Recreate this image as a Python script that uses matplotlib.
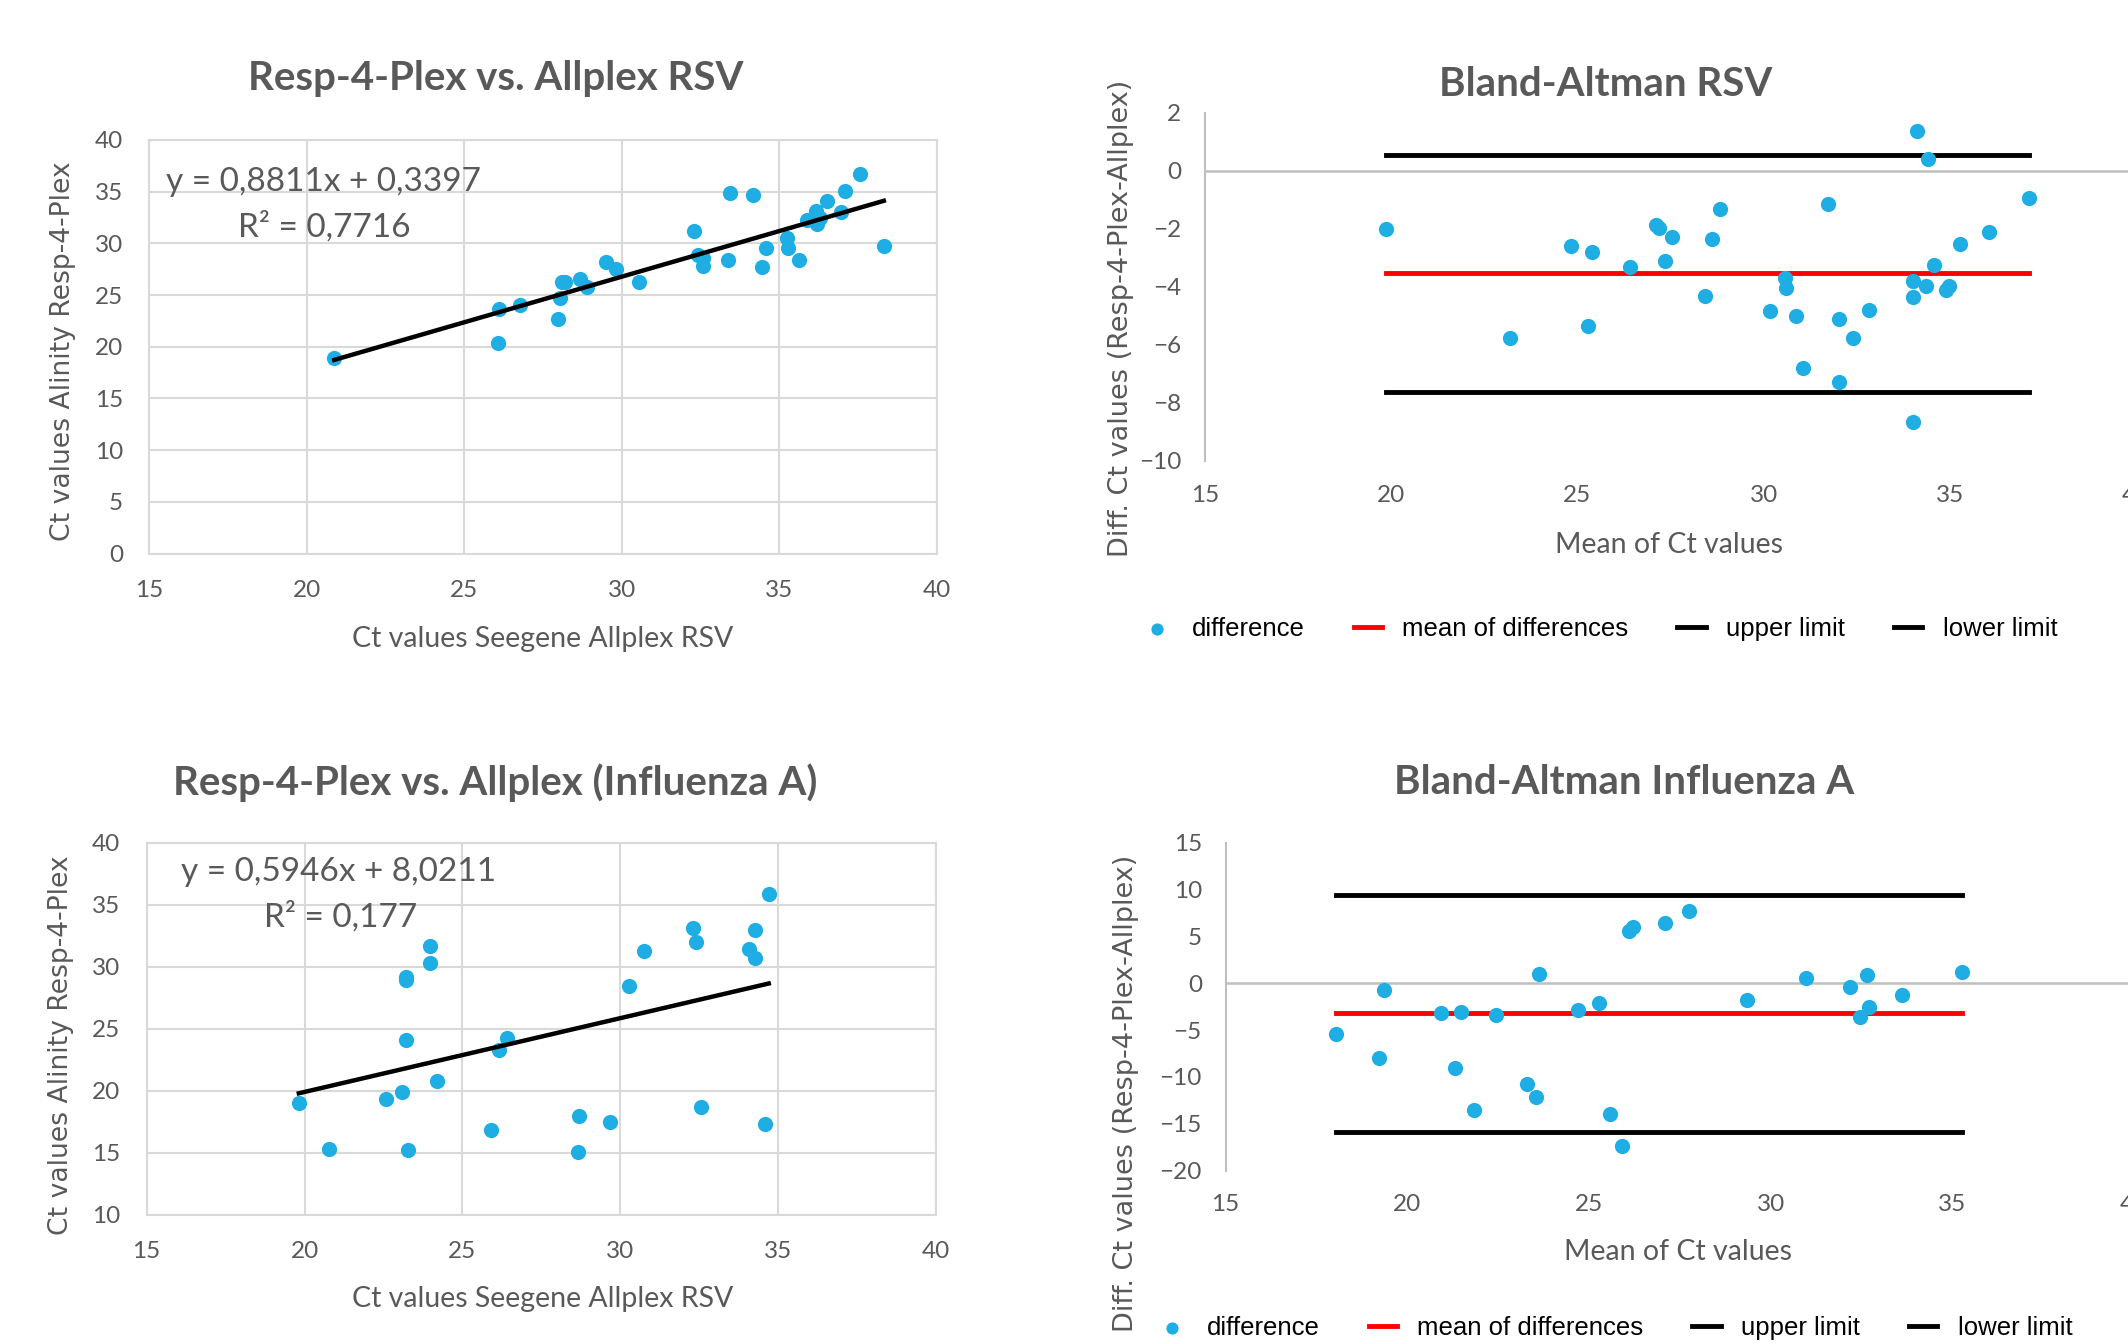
import numpy as np
import matplotlib
matplotlib.use("Agg")
import matplotlib.pyplot as plt

# --- data: RSV scatter (Allplex vs Resp-4-Plex) ---
rsv_x = [20.87, 26.07, 26.1, 26.78, 27.97, 28.04, 28.09, 28.2, 28.66, 28.9,
         29.51, 29.8, 30.55, 32.3, 32.42, 32.58, 32.58, 33.37, 33.42, 34.18,
         34.46, 34.58, 35.23, 35.27, 35.64, 35.89, 36.17, 36.19, 36.29, 36.53,
         36.95, 37.1, 37.57, 38.32]
rsv_y = [18.9, 20.33, 23.6, 24.07, 22.67, 24.73, 26.23, 26.3, 26.5, 25.77,
         28.23, 27.53, 26.27, 31.23, 28.83, 28.57, 27.77, 28.4, 34.83, 34.63,
         27.67, 29.53, 30.53, 29.57, 28.4, 32.27, 33.07, 31.9, 32.4, 34.1,
         33.0, 35.07, 36.7, 29.73]
rsv_slope, rsv_icpt = 0.8811, 0.3397
rsv_eq = "y = 0,8811x + 0,3397"
rsv_r2 = "R² = 0,7716"

# --- data: RSV Bland-Altman ---
ba_rsv_mean = [19.87, 23.19, 24.82, 25.28, 25.39, 26.4, 27.1, 27.2, 27.34, 27.53,
               28.42, 28.61, 28.84, 30.17, 30.56, 30.61, 30.86, 31.05, 31.73, 32.01,
               32.03, 32.4, 32.84, 34.01, 34.01, 34.01, 34.12, 34.35, 34.4, 34.56,
               34.89, 34.98, 35.27, 36.04, 37.12]
ba_rsv_diff = [-2.0, -5.75, -2.58, -5.36, -2.78, -3.32, -1.87, -1.96, -3.12, -2.27,
               -4.31, -2.35, -1.32, -4.82, -3.7, -4.03, -5.0, -6.81, -1.15, -7.29,
               -5.11, -5.75, -4.81, -3.78, -4.33, -8.64, 1.36, -3.96, 0.42, -3.24,
               -4.09, -3.96, -2.52, -2.12, -0.92]
ba_rsv_md, ba_rsv_up, ba_rsv_lo = -3.53, 0.55, -7.61

# --- data: Influenza A scatter ---
flu_x = [19.82, 20.79, 22.58, 23.09, 23.21, 23.21, 23.21, 23.29, 23.98, 23.98,
         24.18, 25.89, 26.15, 26.4, 28.68, 28.66, 29.67, 30.28, 30.74, 32.29,
         32.39, 32.54, 34.08, 34.28, 34.28, 34.58, 34.7]
flu_y = [19.03, 15.35, 19.38, 19.95, 29.2, 28.95, 24.09, 15.27, 31.64, 30.27,
         20.81, 16.83, 23.28, 24.25, 17.98, 15.11, 17.53, 28.44, 31.29, 33.09,
         31.99, 18.68, 31.4, 32.98, 30.73, 17.31, 35.89]
flu_slope, flu_icpt = 0.5946, 8.0211
flu_eq = "y = 0,5946x + 8,0211"
flu_r2 = "R² = 0,177"

# --- data: Influenza A Bland-Altman ---
ba_flu_mean = [18.03, 19.22, 19.37, 20.92, 21.32, 21.48, 21.84, 22.45, 23.29, 23.54,
               23.63, 24.69, 25.27, 25.58, 25.9, 26.1, 26.2, 27.09, 27.76, 29.35,
               30.97, 32.18, 32.47, 32.65, 32.71, 33.61, 35.25]
ba_flu_diff = [-5.41, -8.0, -0.71, -3.23, -9.06, -3.08, -13.57, -3.35, -10.75, -12.18,
               0.94, -2.82, -2.11, -13.91, -17.33, 5.6, 5.95, 6.39, 7.71, -1.8,
               0.56, -0.38, -3.57, 0.83, -2.56, -1.24, 1.24]
ba_flu_md, ba_flu_up, ba_flu_lo = -3.2, 9.45, -15.85

BLUE = '#1FAEE3'
GRAY = '#595959'
GRID = '#D9D9D9'
TICKFONT = 'Lato'

fig = plt.figure(figsize=(21.28, 13.44), dpi=100)


def style_ticks(ax, pad):
    ax.tick_params(length=0, labelsize=17.5, labelcolor=GRAY, pad=pad)
    for lab in ax.get_xticklabels() + ax.get_yticklabels():
        lab.set_family(TICKFONT)


def scatter_panel(rect, xs, ys, slope, icpt, eq, r2, ylim, title, title_pos,
                  eq_pos, r2_pos, xl_pos, yl_pos):
    ax = fig.add_axes(rect)
    ax.scatter(xs, ys, s=120, color=BLUE, zorder=3, linewidths=0)
    lx = np.array([min(xs), max(xs)])
    ax.plot(lx, slope * lx + icpt, color='black', lw=3.2, zorder=4)
    ax.set_xlim(15, 40)
    ax.set_ylim(*ylim)
    ax.set_xticks(range(15, 41, 5))
    ax.set_yticks(range(ylim[0], ylim[1] + 1, 5))
    ax.grid(True, color=GRID, lw=1.5)
    ax.set_axisbelow(True)
    for s in ax.spines.values():
        s.set_color(GRID)
        s.set_linewidth(1.5)
    style_ticks(ax, 19)
    ax.text(eq_pos[0], eq_pos[1], eq, transform=ax.transAxes, fontsize=24,
            family=TICKFONT, color=GRAY, va='center', ha='left')
    ax.text(r2_pos[0], r2_pos[1], r2, transform=ax.transAxes, fontsize=24,
            family=TICKFONT, color=GRAY, va='center', ha='left')
    ax.set_xlabel("Ct values Seegene Allplex RSV", fontsize=20.5, family=TICKFONT,
                  color=GRAY, va='center')
    ax.xaxis.set_label_coords(*xl_pos)
    ax.set_ylabel("Ct values Alinity Resp-4-Plex", fontsize=19.2,
                  family='DejaVu Sans', color=GRAY, va='center')
    ax.yaxis.set_label_coords(*yl_pos)
    fig.text(title_pos[0], title_pos[1], title, fontsize=29, fontweight='bold',
             family=TICKFONT, color=GRAY, ha='center', va='center')
    return ax


def ba_panel(rect, xs, ds, md, up, lo, ylim, step, title, title_pos, xl_pos,
             yl_pos, leg_pos):
    ax = fig.add_axes(rect)
    ax.axhline(0, color='#BFBFBF', lw=1.8, zorder=1)
    sc = ax.scatter(xs, ds, s=120, color=BLUE, zorder=3, linewidths=0,
                    label='difference')
    lx = [min(xs), max(xs)]
    l1, = ax.plot(lx, [md, md], color='#FF0000', lw=3.5, zorder=2,
                  label='mean of differences')
    l2, = ax.plot(lx, [up, up], color='black', lw=3.5, zorder=2,
                  label='upper limit')
    l3, = ax.plot(lx, [lo, lo], color='black', lw=3.5, zorder=2,
                  label='lower limit')
    ax.set_xlim(15, 40)
    ax.set_ylim(*ylim)
    ax.set_xticks(range(15, 41, 5))
    ax.set_yticks(range(ylim[0], ylim[1] + 1, step))
    for k in ['top', 'right', 'bottom']:
        ax.spines[k].set_visible(False)
    ax.spines['left'].set_color('#BFBFBF')
    ax.spines['left'].set_linewidth(1.5)
    style_ticks(ax, 17)
    ax.set_xlabel("Mean of Ct values", fontsize=20.5, family=TICKFONT,
                  color=GRAY, va='center')
    ax.xaxis.set_label_coords(*xl_pos)
    ax.set_ylabel("Diff. Ct values (Resp-4-Plex-Allplex)", fontsize=19.5,
                  family='DejaVu Sans', color=GRAY, va='center')
    ax.yaxis.set_label_coords(*yl_pos)
    fig.text(title_pos[0], title_pos[1], title, fontsize=29, fontweight='bold',
             family=TICKFONT, color=GRAY, ha='center', va='center')
    fig.legend(handles=[sc, l1, l2, l3], loc='center', bbox_to_anchor=leg_pos,
               ncol=4, frameon=False, handlelength=1.1, columnspacing=1.9,
               handletextpad=0.8, markerscale=0.8,
               prop={'family': 'Liberation Sans', 'size': 18.5})
    return ax


scatter_panel([0.0702, 0.588, 0.370, 0.308], rsv_x, rsv_y, rsv_slope, rsv_icpt,
              rsv_eq, rsv_r2, (0, 40), "Resp-4-Plex vs. Allplex RSV",
              (0.2328, 0.9414), (0.021, 0.898), (0.112, 0.79),
              (0.5, -0.207), (-0.110, 0.49))

ba_panel([0.5663, 0.657, 0.4375, 0.259], ba_rsv_mean, ba_rsv_diff,
         ba_rsv_md, ba_rsv_up, ba_rsv_lo, (-10, 2), 2, "Bland-Altman RSV",
         (0.7545, 0.937), (0.4985, -0.241), (-0.090, 0.41), (0.752, 0.532))

scatter_panel([0.0689, 0.096, 0.371, 0.277], flu_x, flu_y, flu_slope, flu_icpt,
              flu_eq, flu_r2, (10, 40), "Resp-4-Plex vs. Allplex (Influenza A)",
              (0.2328, 0.418), (0.043, 0.92), (0.149, 0.80),
              (0.502, -0.226), (-0.108, 0.456))

ba_panel([0.5759, 0.129, 0.427, 0.244], ba_flu_mean, ba_flu_diff,
         ba_flu_md, ba_flu_up, ba_flu_lo, (-20, 15), 5, "Bland-Altman Influenza A",
         (0.7634, 0.418), (0.4985, -0.249), (-0.109, 0.237), (0.759, 0.012))

fig.savefig("out.png", dpi=100)
